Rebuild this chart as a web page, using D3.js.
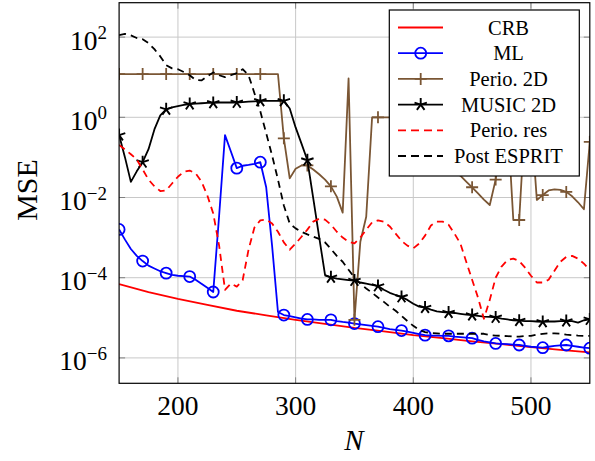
<!DOCTYPE html>
<html><head><meta charset="utf-8">
<script src="https://cdn.jsdelivr.net/npm/d3@7"></script>
<style>html,body{margin:0;padding:0;background:#fff;}svg{display:block;}</style>
</head><body>
<svg id="chart" width="595" height="461"></svg>
<script>
// ---------------- data ----------------
const N = [150,155,160,165,170,175,180,185,190,195,
           200,205,210,215,220,225,230,235,240,245,
           250,255,260,265,270,275,280,285,290,295,
           300,305,310,315,320,325,330,335,340,345,
           350,355,360,365,370,375,380,385,390,395,
           400,405,410,415,420,425,430,435,440,445,
           450,455,460,465,470,475,480,485,490,495,
           500,505,510,515,520,525,530,535,540,545,
           550];

const nCrb = [150,175,200,225,250,275,300,325,350,375,400,425,450,475,500,525,550];
const crb = [6.9e-5,4.4e-5,2.95e-5,2.1e-5,1.5e-5,1.15e-5,8.9e-6,7.1e-6,5.6e-6,4.6e-6,3.7e-6,3.1e-6,2.6e-6,2.2e-6,1.86e-6,1.58e-6,1.38e-6];

const ml = [1.6e-3,8.9e-4,5.2e-4,3.5e-4,2.6e-4,2.0e-4,1.7e-4,1.45e-4,1.3e-4,1.17e-4,
  1.12e-4,1.1e-4,1.07e-4,8.9e-5,7.1e-5,5.6e-5,4.4e-5,3.5e-3,0.36,0.14,
  0.054,0.062,0.065,0.069,0.076,0.018,6.3e-4,1.4e-5,1.17e-5,1.1e-5,
  1.02e-5,9.5e-6,9.1e-6,9.1e-6,8.9e-6,8.9e-6,8.9e-6,8.3e-6,7.9e-6,7.6e-6,
  7.2e-6,6.9e-6,6.6e-6,6.3e-6,6.0e-6,5.6e-6,5.2e-6,5.0e-6,4.8e-6,4.5e-6,
  4.2e-6,3.9e-6,3.7e-6,3.6e-6,3.6e-6,3.55e-6,3.55e-6,3.4e-6,3.3e-6,3.2e-6,
  3.1e-6,2.8e-6,2.6e-6,2.45e-6,2.3e-6,2.25e-6,2.2e-6,2.15e-6,2.1e-6,2.0e-6,
  1.9e-6,1.85e-6,1.8e-6,1.9e-6,2.0e-6,2.05e-6,2.1e-6,2.0e-6,1.9e-6,1.8e-6,
  1.75e-6];

const perio2d = [12,12,12,12,12,12,12,12,12,12,
  12,12,12,12,12,12,12,12,12,12,
  12,12,12,12,12,12,12,12,0.30,0.030,
  0.052,0.063,0.063,0.050,0.038,0.028,0.019,0.0105,0.0042,9.3,
  8.9e-6,7.9e-4,3.3e-3,1.0,1.0,1.0,1.0,1.0,0.9,0.5,
  0.3,0.2,0.15,0.12,0.1,0.08,0.06,0.045,0.035,0.025,
  0.018,0.0126,0.0089,0.0065,0.028,0.5,1.0,2.75e-3,2.75e-3,1.0,
  1.0,8.7e-3,0.0115,0.015,0.016,0.0155,0.0138,0.0107,7.6e-3,5.1e-3,
  0.245];

const music2d = [0.36,0.1,0.0245,0.045,0.076,0.16,0.5,1.12,1.58,1.78,
  1.9,2.04,2.14,2.19,2.24,2.29,2.29,2.34,2.34,2.34,
  2.34,2.4,2.45,2.5,2.57,2.57,2.57,2.57,2.57,1.66,
  0.56,0.22,0.085,9.5e-3,1.05e-3,1.17e-4,1.02e-4,9.5e-5,9.1e-5,8.7e-5,
  8.5e-5,7.6e-5,7.1e-5,6.6e-5,6.2e-5,5.0e-5,4.2e-5,3.7e-5,3.3e-5,2.8e-5,
  2.25e-5,1.9e-5,1.8e-5,1.6e-5,1.45e-5,1.38e-5,1.35e-5,1.32e-5,1.26e-5,1.2e-5,
  1.17e-5,1.12e-5,1.07e-5,1.05e-5,1.02e-5,9.5e-6,9.1e-6,8.7e-6,8.5e-6,8.3e-6,
  8.3e-6,8.1e-6,7.9e-6,8.1e-6,8.1e-6,8.3e-6,8.3e-6,8.3e-6,7.6e-6,8.7e-6,
  9.1e-6];

const perioRes = [0.204,0.158,0.12,0.089,0.05,0.028,0.019,0.0145,0.0151,0.0224,
  0.033,0.044,0.047,0.04,0.025,0.0112,4.0e-3,6.3e-4,5.0e-5,7.2e-5,
  6.0e-5,8.7e-5,5.0e-4,1.78e-3,2.7e-3,2.8e-3,2.24e-3,1.4e-3,7.6e-4,5.0e-4,
  7.1e-4,1.05e-3,1.58e-3,2.5e-3,2.95e-3,2.8e-3,2.1e-3,1.4e-3,1.0e-3,7.9e-4,
  7.2e-4,1.0e-3,1.58e-3,2.4e-3,2.7e-3,2.5e-3,1.9e-3,1.26e-3,8.3e-4,6.3e-4,
  5.4e-4,7.1e-4,1.12e-3,2.0e-3,2.5e-3,2.5e-3,2.1e-3,1.26e-3,7.1e-4,2.5e-4,
  8.9e-5,3.2e-5,9.5e-6,2.8e-5,1.0e-4,1.9e-4,2.75e-4,3.0e-4,2.6e-4,1.78e-4,
  1.12e-4,7.6e-5,7.6e-5,8.9e-5,1.5e-4,2.5e-4,3.3e-4,3.5e-4,3.0e-4,2.24e-4,
  1.58e-4];

const postEsprit = [112,120,110,95,89,71,50,33,20,16.6,
  15.8,13.5,11.2,8.5,8.3,10.5,13.2,11.2,10,11.2,
  12.6,15.8,11.2,4.0,1.41,0.4,0.112,0.028,6.3e-3,2.24e-3,
  1.7e-3,1.4e-3,1.2e-3,1.05e-3,9.3e-4,7.6e-4,5.2e-4,3.5e-4,2.5e-4,1.58e-4,
  1.0e-4,7.1e-5,5.4e-5,4.2e-5,3.2e-5,2.5e-5,1.9e-5,1.5e-5,1.12e-5,8.3e-6,
  6.3e-6,5.0e-6,4.4e-6,4.2e-6,4.1e-6,4.0e-6,4.0e-6,4.0e-6,4.0e-6,4.0e-6,
  4.0e-6,4.0e-6,4.0e-6,3.7e-6,3.6e-6,3.55e-6,3.5e-6,3.4e-6,3.4e-6,3.5e-6,
  3.55e-6,3.8e-6,4.0e-6,4.1e-6,4.1e-6,4.0e-6,3.8e-6,3.7e-6,3.6e-6,3.55e-6,
  3.55e-6];

const legendLabels = ["CRB","ML","Perio. 2D","MUSIC 2D","Perio. res","Post ESPRIT"];
const xTicks = [200,300,400,500];
const yTickExp = [-6,-4,-2,0,2];

// ---------------- layout ----------------
const svg = d3.select("#chart");
const L = 119.1, R = 589.8, T = 2.7, B = 383.3;
const x = d3.scaleLinear().domain([150,550]).range([L,R]);
const y = d3.scaleLog().domain([Math.pow(10,-6.633), Math.pow(10,2.858)]).range([B,T]);
const FONT = "'Liberation Serif','Times New Roman',serif";
const BROWN = "#7a5634";

// grid
const grid = svg.append("g").attr("stroke","#c8c8c8").attr("stroke-width",1);
xTicks.forEach(t => grid.append("line").attr("x1",x(t)).attr("x2",x(t)).attr("y1",T).attr("y2",B));
yTickExp.forEach(e => grid.append("line").attr("x1",L).attr("x2",R).attr("y1",y(Math.pow(10,e))).attr("y2",y(Math.pow(10,e))));

// tick marks (inside, both sides)
const tk = svg.append("g").attr("stroke","#808080").attr("stroke-width",1);
xTicks.forEach(t => {
  tk.append("line").attr("x1",x(t)).attr("x2",x(t)).attr("y1",B).attr("y2",B-6);
  tk.append("line").attr("x1",x(t)).attr("x2",x(t)).attr("y1",T).attr("y2",T+6);
});
yTickExp.forEach(e => {
  const yy = y(Math.pow(10,e));
  tk.append("line").attr("x1",L).attr("x2",L+6).attr("y1",yy).attr("y2",yy);
  tk.append("line").attr("x1",R).attr("x2",R-6).attr("y1",yy).attr("y2",yy);
});

// clip
svg.append("defs").append("clipPath").attr("id","clip")
  .append("rect").attr("x",L).attr("y",T).attr("width",R-L).attr("height",B-T);
const plot = svg.append("g").attr("clip-path","url(#clip)");

const line = d3.line().x(d => x(d[0])).y(d => y(d[1]));

// marker shapes
function circleMark(g, cx, cy, color) {
  g.append("circle").attr("cx",cx).attr("cy",cy).attr("r",5.5)
    .attr("fill","none").attr("stroke",color).attr("stroke-width",1.8);
}
function plusMark(g, cx, cy, color) {
  g.append("path").attr("d",`M${cx-6},${cy}H${cx+6}M${cx},${cy-6}V${cy+6}`)
    .attr("stroke",color).attr("stroke-width",1.8).attr("fill","none");
}
function starMark(g, cx, cy, color) {
  let d = "";
  for (let k = 0; k < 5; k++) {
    const a = Math.PI/2 + k*2*Math.PI/5;
    d += `M${cx},${cy}L${cx + 6.5*Math.cos(a)},${cy - 6.5*Math.sin(a)}`;
  }
  g.append("path").attr("d",d).attr("stroke",color).attr("stroke-width",1.9).attr("fill","none");
}

const series = [
  {xs: nCrb, ys: crb, color: "#ff0000", dash: null, mark: null},
  {xs: N, ys: ml, color: "#0000ff", dash: null, mark: circleMark},
  {xs: N, ys: perio2d, color: BROWN, dash: null, mark: plusMark},
  {xs: N, ys: music2d, color: "#000000", dash: null, mark: starMark},
  {xs: N, ys: perioRes, color: "#ff0000", dash: "7,5", mark: null},
  {xs: N, ys: postEsprit, color: "#000000", dash: "7,5", mark: null}
];

series.forEach(s => {
  const pts = s.xs.map((n,i) => [n, s.ys[i]]);
  plot.append("path").datum(pts).attr("d", line)
    .attr("fill","none").attr("stroke",s.color).attr("stroke-width",1.8)
    .attr("stroke-linejoin","round")
    .attr("stroke-dasharray", s.dash);
  if (s.mark) {
    const mg = plot.append("g");
    pts.forEach((p,i) => { if (i % 4 === 0) s.mark(mg, x(p[0]), y(p[1]), s.color); });
  }
});

// frame
svg.append("rect").attr("x",L).attr("y",T).attr("width",R-L).attr("height",B-T)
  .attr("fill","none").attr("stroke","#000").attr("stroke-width",1.2);

// tick labels
xTicks.forEach(t => {
  svg.append("text").attr("x",x(t)).attr("y",415).attr("text-anchor","middle")
    .attr("font-family",FONT).attr("font-size",27.5).attr("fill","#000").text(t);
});
yTickExp.forEach(e => {
  const yy = y(Math.pow(10,e));
  const t = svg.append("text").attr("x",107).attr("y",yy+12.5).attr("text-anchor","end")
    .attr("font-family",FONT).attr("font-size",27.5).attr("fill","#000");
  t.append("tspan").text("10");
  t.append("tspan").attr("dy",-10.5).attr("font-size",19).text(e < 0 ? "\u2212" + Math.abs(e) : String(e));
});

// axis labels
svg.append("text").attr("transform","translate(37,190) rotate(-90)")
  .attr("text-anchor","middle").attr("font-family",FONT).attr("font-size",30).text("MSE");
svg.append("text").attr("x",354).attr("y",450).attr("text-anchor","middle")
  .attr("font-family",FONT).attr("font-style","italic").attr("font-size",29).text("N");

// legend
const lg = svg.append("g");
lg.append("rect").attr("x",389.3).attr("y",10).attr("width",190).attr("height",166)
  .attr("fill","#fff").attr("stroke","#000").attr("stroke-width",1.2);
series.forEach((s,i) => {
  const yy = 27.5 + i*25.7;
  lg.append("line").attr("x1",398).attr("x2",443).attr("y1",yy).attr("y2",yy)
    .attr("stroke",s.color).attr("stroke-width",1.8).attr("stroke-dasharray",s.dash ? "8,5" : null);
  if (s.mark) s.mark(lg, 420.7, yy, s.color);
  lg.append("text").attr("x",508.5).attr("y",yy).attr("dy","0.35em").attr("text-anchor","middle")
    .attr("font-family",FONT).attr("font-size",20.5).attr("fill","#000").text(legendLabels[i]);
});
</script>
</body></html>
